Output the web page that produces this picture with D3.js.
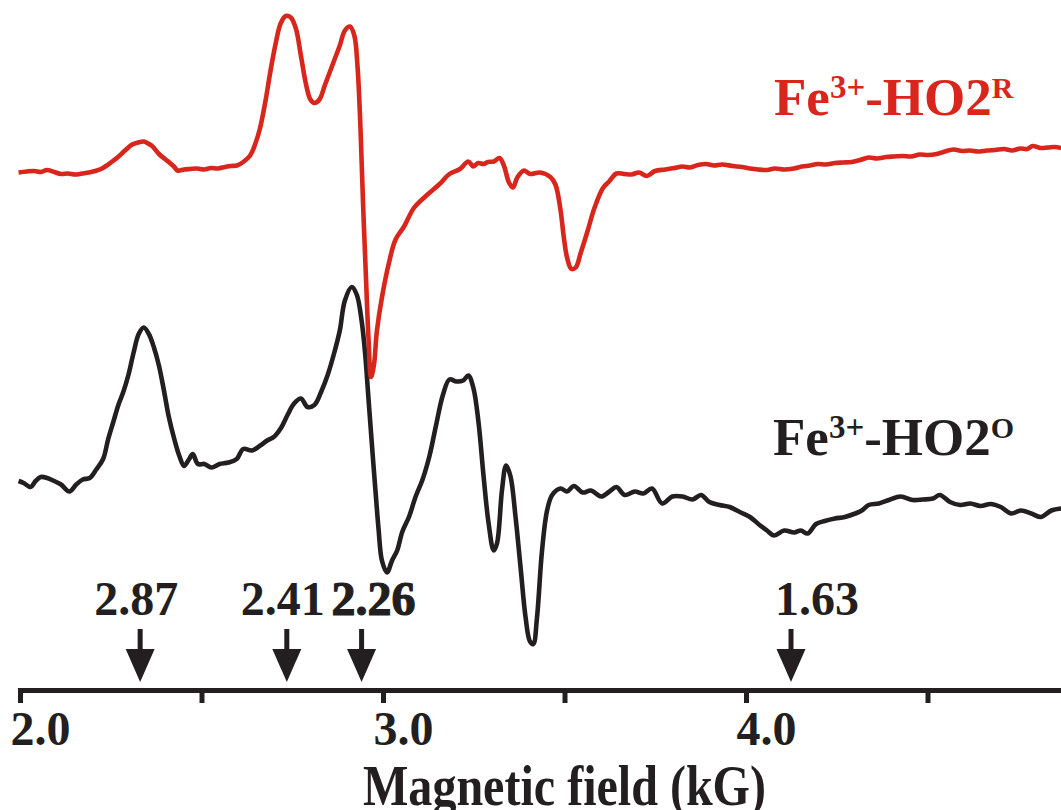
<!DOCTYPE html>
<html>
<head>
<meta charset="utf-8">
<title>EPR spectra</title>
<style>
  html, body { margin: 0; padding: 0; background: #fff; }
  svg { display: block; }
  text { font-family: "Liberation Serif", "Times New Roman", serif; font-weight: bold; }
</style>
</head>
<body>
<svg id="chart" width="1061" height="810"></svg>
<script src="https://d3js.org/d3.v7.min.js"></script>
<script>
// magnetic field (kG) and derivative signal (arb. units)
var redField = [1.996,2.019,2.039,2.058,2.074,2.094,2.113,2.132,2.152,2.171,2.190,2.207,2.223,2.237,2.252,2.270,2.289,2.309,2.325,2.341,2.353,2.364,2.383,2.401,2.413,2.424,2.434,2.452,2.468,2.488,2.507,2.526,2.545,2.565,2.581,2.598,2.615,2.634,2.647,2.661,2.676,2.690,2.704,2.718,2.732,2.746,2.760,2.774,2.788,2.800,2.811,2.825,2.839,2.853,2.867,2.881,2.895,2.909,2.921,2.930,2.938,2.945,2.953,2.960,2.967,2.975,2.983,2.997,3.016,3.034,3.058,3.085,3.118,3.156,3.183,3.212,3.235,3.249,3.262,3.277,3.289,3.305,3.321,3.333,3.347,3.358,3.370,3.388,3.405,3.433,3.461,3.475,3.489,3.498,3.507,3.519,3.531,3.545,3.564,3.582,3.606,3.624,3.643,3.664,3.685,3.705,3.727,3.749,3.778,3.802,3.825,3.846,3.868,3.890,3.912,3.934,3.964,3.989,4.011,4.033,4.058,4.080,4.105,4.132,4.154,4.176,4.198,4.220,4.245,4.267,4.291,4.314,4.338,4.361,4.386,4.408,4.431,4.455,4.479,4.501,4.525,4.548,4.571,4.595,4.617,4.639,4.664,4.686,4.711,4.733,4.755,4.774,4.790,4.810,4.832,4.851,4.868];
var redSignal = [-0.1,0.1,0.2,0,0.4,0,-0.4,-0.3,-0.5,-0.3,-0.1,0.2,0.6,1.2,2.0,3.0,4.3,5.5,5.9,6.1,5.7,5.2,3.6,2.5,1.8,1.1,0.3,0.5,0.6,0.7,0.5,0.8,0.7,1.0,1.2,1.3,2.0,3.3,5.4,8.7,14.1,20.2,25.6,29.7,31.2,30.9,28.7,23.2,17.5,14.5,13.8,14.5,17.2,19.9,22.6,25.3,28.3,29.1,27.3,20.9,8.7,-6.2,-21.0,-33.2,-41.0,-38.6,-31.9,-25.1,-18.3,-13.6,-10.9,-7.2,-4.8,-2.4,-0.4,0.6,2.1,1.1,1.8,1.6,2.0,2.1,2.8,1.3,-2.1,-3.1,-1.1,0.3,-0.4,-0.1,-1.0,-2.5,-7.6,-13.0,-17.1,-19.4,-19.1,-16.1,-11.7,-7.3,-3.2,-1.8,-0.3,-0.4,-0.5,-0.1,-0.8,0.2,0.5,0.8,1.1,0.9,1.4,1.6,1.3,1.5,1.2,1.0,0.7,0.5,0.4,0.7,0.5,0.7,1.1,1.3,1.6,1.5,1.8,1.9,2.0,2.4,2.9,2.7,3.0,3.1,3.2,3.1,3.5,3.4,3.6,4.1,4.5,4.2,4.3,4.1,4.3,4.4,4.6,4.3,4.7,4.6,5.2,4.8,4.9,5.0,4.8];

var blackField = [1.996,2.010,2.029,2.043,2.057,2.075,2.094,2.113,2.136,2.155,2.173,2.192,2.210,2.229,2.243,2.257,2.271,2.285,2.299,2.313,2.327,2.341,2.355,2.369,2.383,2.397,2.410,2.425,2.439,2.452,2.466,2.476,2.490,2.508,2.527,2.550,2.574,2.597,2.615,2.639,2.662,2.681,2.699,2.718,2.737,2.755,2.774,2.792,2.811,2.830,2.848,2.867,2.881,2.895,2.914,2.928,2.941,2.951,2.960,2.969,2.979,2.988,2.997,3.011,3.025,3.039,3.053,3.072,3.090,3.109,3.128,3.146,3.165,3.183,3.202,3.221,3.235,3.249,3.263,3.277,3.291,3.305,3.314,3.328,3.339,3.351,3.365,3.379,3.393,3.405,3.414,3.424,3.438,3.452,3.466,3.489,3.507,3.526,3.550,3.573,3.601,3.624,3.643,3.666,3.694,3.717,3.741,3.769,3.797,3.825,3.853,3.876,3.899,3.927,3.955,3.983,4.011,4.039,4.058,4.077,4.105,4.133,4.151,4.170,4.193,4.217,4.245,4.272,4.301,4.319,4.338,4.366,4.394,4.426,4.459,4.487,4.515,4.534,4.562,4.590,4.618,4.646,4.674,4.702,4.730,4.758,4.786,4.813,4.841,4.868];
var blackSignal = [0.8,0.4,-0.4,0.8,1.6,1.4,0.8,0.1,-1.3,0.1,1.1,1.4,3.1,5.2,9.2,12.6,16.0,18.7,22.1,26.5,30.2,31.5,30.2,27.5,23.8,18.7,13.6,9.2,5.8,3.8,5.2,6.2,4.2,4.2,3.5,4.2,4.5,5.2,7.2,6.9,7.9,8.9,9.6,11.3,14.0,16.3,17.3,15.6,16.0,18.7,22.1,26.8,30.9,36.9,39.6,38.0,32.9,26.1,17.3,8.5,-0.9,-9.0,-15.1,-17.5,-15.1,-13.1,-9.4,-6.3,-2.3,1.1,5.8,11.9,18.0,21.1,20.7,20.9,21.9,19.4,12.6,1.8,-7.7,-13.1,-11.7,-0.9,3.9,1.8,-6.3,-16.5,-26.6,-31.3,-31.8,-26.7,-13.2,-5.1,-2.0,-0.7,-1.3,-0.2,-1.5,-1.1,-2.3,-1.3,-0.4,-2.0,-1.3,-1.7,-0.7,-3.7,-2.3,-2.3,-2.9,-2.0,-3.4,-4.0,-4.4,-5.4,-6.4,-8.1,-9.1,-10.1,-9.1,-9.5,-9.1,-9.7,-7.8,-7.2,-6.7,-6.4,-5.7,-5.1,-4.0,-3.7,-3.0,-2.3,-3.0,-2.9,-2.7,-2.0,-3.4,-4.0,-3.7,-4.2,-3.8,-4.4,-5.7,-5.1,-5.7,-6.4,-5.1,-4.7];

var redOffset = 62.6;   // vertical stacking of the upper spectrum
var tickValues = [2.0, 2.5, 3.0, 3.5, 4.0, 4.5];
var markerField = [2.331, 2.735, 2.941, 4.124];
var markerLabels = ["2.87", "2.41", "2.26", "1.63"];

var ink = "#231f20", red = "#d9261c";
var axisY = 690;

var svg = d3.select("#chart");

var x = d3.scaleLinear().domain([2.0, 4.868]).range([20, 20 + 363 * 2.868]);
var y = d3.scaleLinear().domain([-40, 97]).range([685, 0]);

var line = d3.line()
  .x(function (d) { return x(d[0]) })
  .y(function (d) { return y(d[1]) })
  .curve(d3.curveCatmullRom.alpha(0.5));

var redData = redField.map(function (f, i) { return [f, redSignal[i] + redOffset] });
var blackData = blackField.map(function (f, i) { return [f, blackSignal[i]] });

svg.append("path").datum(blackData)
  .attr("d", line).attr("fill", "none")
  .attr("stroke", ink).attr("stroke-width", 4.6)
  .attr("stroke-linejoin", "round");

svg.append("path").datum(redData)
  .attr("d", line).attr("fill", "none")
  .attr("stroke", red).attr("stroke-width", 4.6)
  .attr("stroke-linejoin", "round");

// x axis
var axis = d3.axisBottom(x)
  .tickValues(tickValues)
  .tickSize(13)
  .tickSizeOuter(0)
  .tickFormat(function (d) { return d % 1 === 0 ? d3.format(".1f")(d) : "" });

var gx = svg.append("g").attr("transform", "translate(0," + axisY + ")").call(axis);
gx.select(".domain").attr("stroke", ink).attr("stroke-width", 5).attr("stroke-linecap", "square");
gx.selectAll(".tick line").attr("stroke", ink).attr("stroke-width", 5);
gx.selectAll(".tick text")
  .attr("y", 55).attr("dy", 0).attr("dx", 20)
  .attr("fill", ink)
  .style("font-size", "48px")
  .style("font-family", "'Liberation Serif', 'Times New Roman', serif")
  .style("font-weight", "bold");

svg.append("text")
  .attr("x", x(3.5)).attr("y", 805)
  .attr("text-anchor", "middle")
  .attr("textLength", 403).attr("lengthAdjust", "spacingAndGlyphs")
  .attr("fill", ink).style("font-size", "56px")
  .text("Magnetic field (kG)");

// g-value markers
var labelDx = [-4, -4, 12, 26];
var markers = svg.append("g").selectAll("g")
  .data(markerField).enter().append("g")
  .attr("transform", function (d) { return "translate(" + x(d) + ",0)" });

markers.append("line")
  .attr("x1", 0).attr("x2", 0).attr("y1", 629).attr("y2", 656)
  .attr("stroke", ink).attr("stroke-width", 5);
markers.append("path")
  .attr("d", "M-14.5,649L14.5,649L0,682Z")
  .attr("fill", ink);
markers.append("text")
  .attr("x", function (d, i) { return labelDx[i] })
  .attr("y", 615)
  .attr("text-anchor", "middle")
  .attr("fill", ink)
  .attr("stroke", function (d, i) { return i === 2 ? ink : "none" })
  .attr("stroke-width", 1.2)
  .style("font-size", "48px")
  .text(function (d, i) { return markerLabels[i] });

// spectrum labels
function speciesLabel(xPos, yPos, color, sup) {
  var t = svg.append("text").attr("x", xPos).attr("y", yPos)
    .attr("fill", color).style("font-size", "53px");
  t.append("tspan").text("Fe");
  t.append("tspan").attr("dy", -17).style("font-size", "33px").text("3+");
  t.append("tspan").attr("dy", 17).text("-HO2");
  t.append("tspan").attr("dy", -17).style("font-size", "30px").text(sup);
}
speciesLabel(774, 115, red, "R");
speciesLabel(773, 455, ink, "O");
</script>
</body>
</html>
